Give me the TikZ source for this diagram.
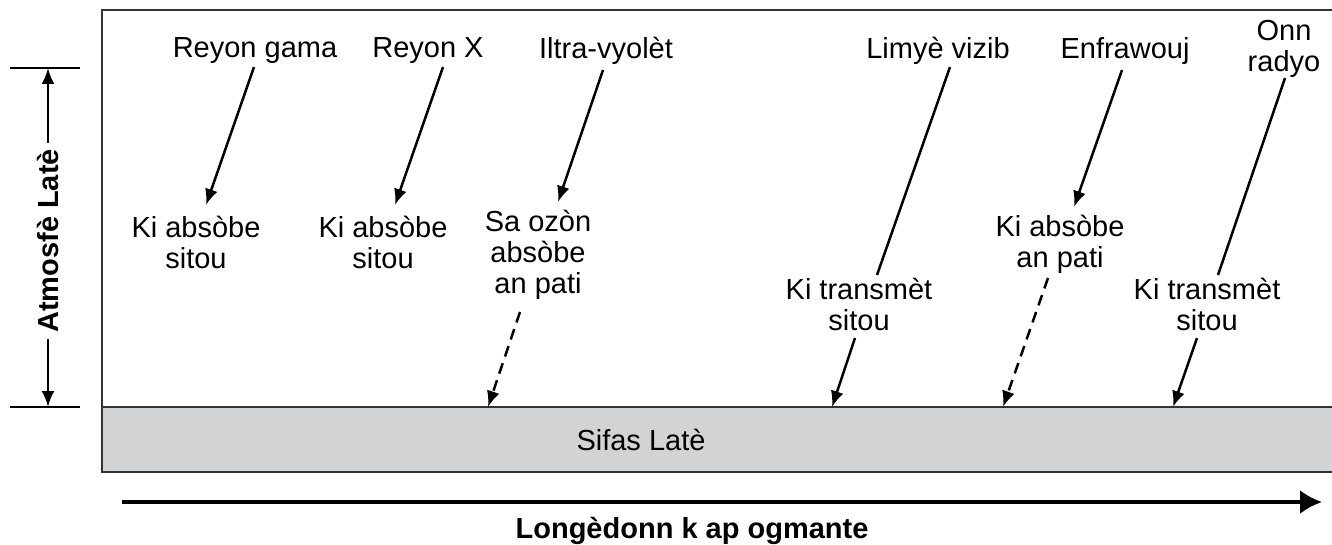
\documentclass[tikz,border=0pt]{standalone}
\usepackage{fontspec}
\setmainfont{Liberation Sans}
\usetikzlibrary{arrows.meta}
\definecolor{groundgray}{HTML}{D1D3D4}
\definecolor{framegray}{HTML}{333333}
\begin{document}
\begin{tikzpicture}[x=1pt,y=-1pt,
  lbl/.style={align=center,font=\fontsize{29}{31}\selectfont,inner sep=0pt},
  blbl/.style={font=\bfseries\fontsize{29}{31}\selectfont,inner sep=0pt},
  ray/.style={line width=2.5pt,-{Latex[length=16pt,width=13pt]}},
  dray/.style={ray,dash pattern=on 11pt off 7pt},
  seg/.style={line width=2.5pt},
  frameline/.style={draw=framegray,line width=1.6pt}]
\useasboundingbox (0,0) rectangle (1332,545);
% ground and frame
\fill[groundgray] (102,407) rectangle (1332,472);
\draw[frameline] (1332,10) -- (102,10) -- (102,472) -- (1332,472);
\draw[frameline] (102,407) -- (1332,407);
\node[lbl] (gnd) at (641,440) {Sifas Latè};
% top labels
\node[lbl] (tGama) at (255,51) {Reyon gama};
\node[lbl] (tX) at (428,51) {Reyon X};
\node[lbl] (tUV) at (606,51) {Iltra-vyolèt};
\node[lbl] (tVis) at (938,51) {Limyè vizib};
\node[lbl] (tIR) at (1125,51) {Enfrawouj};
\node[lbl] (tRad) at (1284,49) {Onn\\radyo};
% middle labels
\node[lbl] (mGama) at (196,242) {Ki absòbe\\sitou};
\node[lbl] (mX) at (383,242) {Ki absòbe\\sitou};
\node[lbl] (mUV) at (538,255) {Sa ozòn\\absòbe\\an pati};
\node[lbl] (mVis) at (859,304) {Ki transmèt\\sitou};
\node[lbl] (mIR) at (1060,244) {Ki absòbe\\an pati};
\node[lbl] (mRad) at (1207,304) {Ki transmèt\\sitou};
% connector end points
\coordinate (gamaA) at (254,67);  \coordinate (gamaB) at (206,205);
\coordinate (xA) at (443,67);     \coordinate (xB) at (395,205);
\coordinate (uvA) at (603,70);    \coordinate (uvB) at (558,202);
\coordinate (uvC) at (520,312);   \coordinate (uvD) at (488,407);
\coordinate (visA) at (950,67);   \coordinate (visB) at (877,275);
\coordinate (visC) at (855,338);  \coordinate (visD) at (832,407);
\coordinate (irA) at (1122,70);   \coordinate (irB) at (1074,207);
\coordinate (irC) at (1048,278);  \coordinate (irD) at (1003,407);
\coordinate (radA) at (1285,78);  \coordinate (radB) at (1218,275);
\coordinate (radC) at (1197,338); \coordinate (radD) at (1173,407);
% rays
\draw[ray] (gamaA) -- (gamaB);
\draw[ray] (xA) -- (xB);
\draw[ray] (uvA) -- (uvB);
\draw[dray] (uvC) -- (uvD);
\draw[seg] (visA) -- (visB);
\draw[ray] (visC) -- (visD);
\draw[ray] (irA) -- (irB);
\draw[dray] (irC) -- (irD);
\draw[seg] (radA) -- (radB);
\draw[ray] (radC) -- (radD);
% left atmosphere scale
\coordinate (tickTL) at (10,68);  \coordinate (tickTR) at (80,68);
\coordinate (tickBL) at (10,407); \coordinate (tickBR) at (80,407);
\draw[line width=1.6pt] (tickTL) -- (tickTR);
\draw[line width=1.6pt] (tickBL) -- (tickBR);
\node[blbl,rotate=90,inner sep=6pt] (atm) at (48,241) {Atmosfè Latè};
\coordinate (atmTop) at (48,68);
\coordinate (atmBot) at (48,407);
\draw[ray] (atm.east) -- (atmTop);
\draw[ray] (atm.west) -- (atmBot);
% wavelength axis
\coordinate (axL) at (122,502);
\coordinate (axR) at (1322,502);
\draw[line width=3.5pt,-{Latex[length=22pt,width=24pt]}] (axL) -- (axR);
\node[blbl] (axlbl) at (692,531) {Longèdonn k ap ogmante};
\end{tikzpicture}
\end{document}
